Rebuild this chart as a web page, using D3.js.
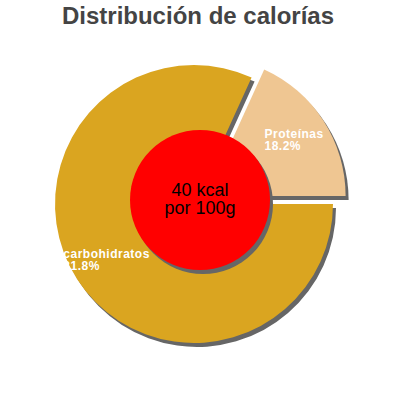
<!DOCTYPE html>
<html lang="es">
<head>
  <meta charset="UTF-8">
  <title>Distribución de calorías</title>
  <style>
    body { margin: 0; background: #fff; }
    svg { display: block; font-family: "Liberation Sans", Arial, sans-serif; }
  </style>
</head>
<body>
  <svg width="400" height="400"></svg>
  <script src="https://d3js.org/d3.v7.min.js"></script>
  <script>
  // data
  const categories = ["Proteínas", "carbohidratos"];
  const percents = [18.2, 81.8];
  const colors = ["#EFC692", "#DAA520"];
  const centerLines = ["40 kcal", "por 100g"];
  const title = "Distribución de calorías";

  const svg = d3.select("svg");
  const cx = 194, cy = 204, radius = 139;
  const explode = 15;          // first slice pulled out
  const shadow = { dx: 3, dy: 4, fill: "#666" };

  svg.append("text")
    .attr("x", 198).attr("y", 24)
    .attr("text-anchor", "middle")
    .attr("fill", "#444")
    .style("font-size", "24px")
    .style("font-weight", "bold")
    .text(title);

  // first slice ends at 3 o'clock
  const start = Math.PI / 2 - 2 * Math.PI * percents[0] / 100;
  const pie = d3.pie().sort(null).startAngle(start).endAngle(start + 2 * Math.PI);
  const arcs = pie(percents);
  const arc = d3.arc().innerRadius(0).outerRadius(radius);
  const labelArc = d3.arc().innerRadius(104).outerRadius(104);

  const offset = (d, i) => {
    if (i !== 0) return [0, 0];
    const a = (d.startAngle + d.endAngle) / 2;
    return [explode * Math.sin(a), -explode * Math.cos(a)];
  };

  const g = svg.append("g").attr("transform", `translate(${cx},${cy})`);

  // shadows first
  g.selectAll("path.shadow")
    .data(arcs)
    .join("path")
    .attr("class", "shadow")
    .attr("d", arc)
    .attr("fill", shadow.fill)
    .attr("transform", (d, i) => {
      const o = offset(d, i);
      return `translate(${o[0] + shadow.dx},${o[1] + shadow.dy})`;
    });

  g.selectAll("path.slice")
    .data(arcs)
    .join("path")
    .attr("class", "slice")
    .attr("d", arc)
    .attr("fill", (d, i) => colors[i])
    .attr("transform", (d, i) => `translate(${offset(d, i)})`);

  // slice labels, block centred on label arc, lines left aligned
  arcs.forEach((d, i) => {
    const o = offset(d, i);
    const c = labelArc.centroid(d);
    const t = g.append("text")
      .attr("fill", "#fff")
      .style("font-size", "12px")
      .style("font-weight", "bold")
      .style("letter-spacing", "0.5px");
    const l1 = t.append("tspan").text(categories[i]);
    const l2 = t.append("tspan").text(percents[i].toFixed(1) + "%");
    const w = Math.max(l1.node().getComputedTextLength(), l2.node().getComputedTextLength());
    const x = c[0] + o[0] - w / 2;
    const y = c[1] + o[1] - 2;
    l1.attr("x", x).attr("y", y);
    l2.attr("x", x).attr("y", y + 12);
  });

  // centre disc
  const rc = 70, ccx = 200, ccy = 200;
  svg.append("circle")
    .attr("cx", ccx + shadow.dx).attr("cy", ccy + shadow.dy).attr("r", rc)
    .attr("fill", shadow.fill);
  svg.append("circle")
    .attr("cx", ccx).attr("cy", ccy).attr("r", rc)
    .attr("fill", "#FF0000");
  svg.append("text")
    .attr("text-anchor", "middle")
    .attr("fill", "#000")
    .style("font-size", "18px")
    .selectAll("tspan")
    .data(centerLines)
    .join("tspan")
    .attr("x", ccx)
    .attr("y", (d, i) => 196 + i * 18)
    .text(d => d);
  </script>
</body>
</html>
